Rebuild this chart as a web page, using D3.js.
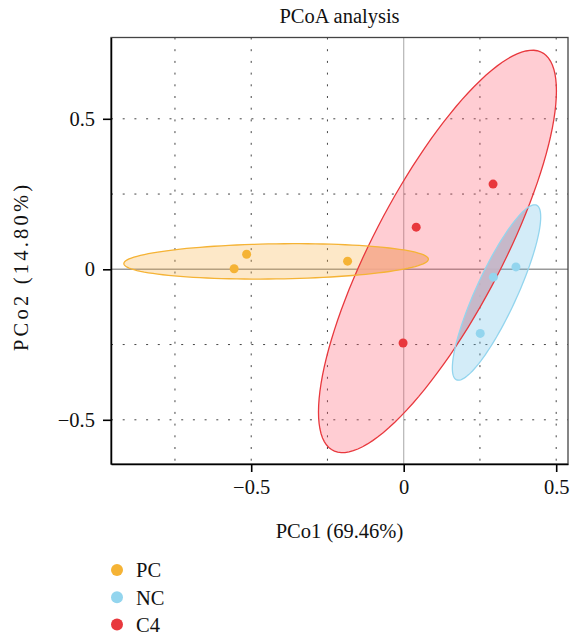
<!DOCTYPE html>
<html><head><meta charset="utf-8">
<script src="https://cdn.jsdelivr.net/npm/d3@7"></script>
<style>
html,body{margin:0;padding:0;background:#fff;}
svg{display:block;font-family:"Liberation Serif","Times New Roman",serif;}
</style></head>
<body>
<svg id="chart" width="571" height="637"></svg>
<script>
// ---- data ----
const groups = ["PC", "NC", "C4"];
const groupColors = ["#F5B335", "#93D5EE", "#E8383D"];
const fillColors = ["#F8B248", "#6CC0E8", "#FF586C"];
const pcX = [-0.556, -0.515, -0.184];
const pcY = [0.002, 0.050, 0.027];
const ncX = [0.294, 0.368, 0.251];
const ncY = [-0.026, 0.008, -0.213];
const c4X = [0.041, 0.293, -0.002];
const c4Y = [0.140, 0.283, -0.245];
const xTicks = [-0.5, 0, 0.5];
const yTicks = [-0.5, 0, 0.5];
const xTickLabels = ["\u22120.5", "0", "0.5"];
const yTickLabels = ["\u22120.5", "0", "0.5"];
const xGrid = [-0.75, -0.5, -0.25, 0.25, 0.5];
const yGrid = [-0.5, -0.25, 0.25, 0.5];
const xDomain = [-0.9597, 0.5387];
const yDomain = [-0.6468, 0.7701];
const title = "PCoA analysis";
const xTitle = "PCo1 (69.46%)";
const yTitle = "PCo2 (14.80%)";
const ellipseLevelChi2 = 5.9915; // qchisq(0.95, 2)

const seriesX = [pcX, ncX, c4X];
const seriesY = [pcY, ncY, c4Y];

// ---- layout ----
const FS = 20.5;
const L = 111, R = 568, T = 37.5, B = 464;
const svg = d3.select("#chart");
const x = d3.scaleLinear().domain(xDomain).range([L, R]);
const y = d3.scaleLinear().domain(yDomain).range([B, T]);

// grid
const grid = svg.append("g");
grid.selectAll(".gx").data(xGrid).join("line")
  .attr("x1", d => x(d)).attr("x2", d => x(d)).attr("y1", T).attr("y2", B)
  .attr("stroke", "#444").attr("stroke-width", 1).attr("stroke-dasharray", "2 9.7");
grid.selectAll(".gy").data(yGrid).join("line")
  .attr("y1", d => y(d)).attr("y2", d => y(d)).attr("x1", L).attr("x2", R)
  .attr("stroke", "#444").attr("stroke-width", 1).attr("stroke-dasharray", "2 9.7");
// zero lines
svg.append("line").attr("x1", x(0)).attr("x2", x(0)).attr("y1", T).attr("y2", B)
  .attr("stroke", "#b5b5b5").attr("stroke-width", 1.2);
svg.append("line").attr("x1", L).attr("x2", R).attr("y1", y(0)).attr("y2", y(0))
  .attr("stroke", "#999").attr("stroke-width", 1.5);

// ellipses computed from data (95% normal ellipse)
function ellipsePts(xs, ys) {
  const n = xs.length;
  const mx = d3.mean(xs), my = d3.mean(ys);
  let sxx = 0, syy = 0, sxy = 0;
  for (let i = 0; i < n; i++) {
    sxx += (xs[i] - mx) ** 2; syy += (ys[i] - my) ** 2; sxy += (xs[i] - mx) * (ys[i] - my);
  }
  sxx /= (n - 1); syy /= (n - 1); sxy /= (n - 1);
  const a = Math.sqrt(sxx), b = sxy / a, c = Math.sqrt(Math.max(syy - b * b, 0));
  const r = Math.sqrt(ellipseLevelChi2);
  return d3.range(0, 120).map(k => {
    const t = 2 * Math.PI * k / 120;
    return [x(mx + r * a * Math.cos(t)), y(my + r * (b * Math.cos(t) + c * Math.sin(t)))];
  });
}
const line = d3.line().curve(d3.curveLinearClosed);
const ell = groups.map((g, i) => line(ellipsePts(seriesX[i], seriesY[i])));

const defs = svg.append("defs");
defs.append("clipPath").attr("id", "clipC4").append("path").attr("d", ell[2]);
defs.append("clipPath").attr("id", "clipPlot").append("rect")
  .attr("x", L).attr("y", T).attr("width", R - L).attr("height", B - T);

const eg = svg.append("g").attr("clip-path", "url(#clipPlot)");
// fills
eg.selectAll(".ef").data([2, 0, 1]).join("path")
  .attr("d", i => ell[i]).attr("fill", i => fillColors[i]).attr("fill-opacity", 0.3);
// overlaps
const ov = eg.append("g").attr("clip-path", "url(#clipC4)");
ov.append("path").attr("d", ell[0]).attr("fill", "#F6AC90").attr("fill-opacity", 0.85);
ov.append("path").attr("d", ell[1]).attr("fill", "#C4B6C7").attr("fill-opacity", 0.9);
// strokes
eg.selectAll(".es").data([2, 0, 1]).join("path")
  .attr("d", i => ell[i]).attr("fill", "none").attr("stroke", i => groupColors[i])
  .attr("stroke-width", 1.3);

// points
groups.forEach((g, i) => {
  svg.append("g").selectAll("circle").data(seriesX[i].map((v, j) => [v, seriesY[i][j]])).join("circle")
    .attr("cx", d => x(d[0])).attr("cy", d => y(d[1])).attr("r", 4.5)
    .attr("fill", groupColors[i]);
});

// frame
svg.append("rect").attr("x", L).attr("y", T).attr("width", R - L).attr("height", B - T)
  .attr("fill", "none").attr("stroke", "#444").attr("stroke-width", 1.3);

// axes
const xAxis = d3.axisBottom(x).tickValues(xTicks).tickSize(8).tickSizeOuter(0).tickPadding(7)
  .tickFormat((d, i) => xTickLabels[i]);
const yAxis = d3.axisLeft(y).tickValues(yTicks).tickSize(8).tickSizeOuter(0).tickPadding(8)
  .tickFormat((d, i) => yTickLabels[i]);
const gx = svg.append("g").attr("transform", `translate(0,${B})`).call(xAxis);
const gy = svg.append("g").attr("transform", `translate(${L},0)`).call(yAxis);
[gx, gy].forEach(g => {
  g.select(".domain").attr("stroke", "#000").attr("stroke-width", 1.5);
  g.selectAll(".tick line").attr("stroke", "#000").attr("stroke-width", 1.6);
  g.selectAll(".tick text").attr("fill", "#111").attr("font-size", FS)
    .attr("font-family", "Liberation Serif, serif");
});

// titles
svg.append("text").attr("x", (L + R) / 2).attr("y", 23).attr("text-anchor", "middle")
  .attr("font-size", FS).attr("fill", "#111").text(title);
svg.append("text").attr("x", (L + R) / 2).attr("y", 538).attr("text-anchor", "middle")
  .attr("font-size", FS).attr("fill", "#111").text(xTitle);
svg.append("text").attr("transform", "translate(28,268) rotate(-90)")
  .attr("text-anchor", "middle").attr("font-size", FS).attr("fill", "#111")
  .attr("textLength", 166).attr("lengthAdjust", "spacing").text(yTitle);

// legend
const lg = svg.append("g");
groups.forEach((g, i) => {
  const cy = 570 + i * 27.3;
  lg.append("circle").attr("cx", 117).attr("cy", cy).attr("r", 6).attr("fill", groupColors[i]);
  lg.append("text").attr("x", 136).attr("y", cy + 7.3).attr("font-size", FS).attr("fill", "#111").text(g);
});
</script>
</body></html>
